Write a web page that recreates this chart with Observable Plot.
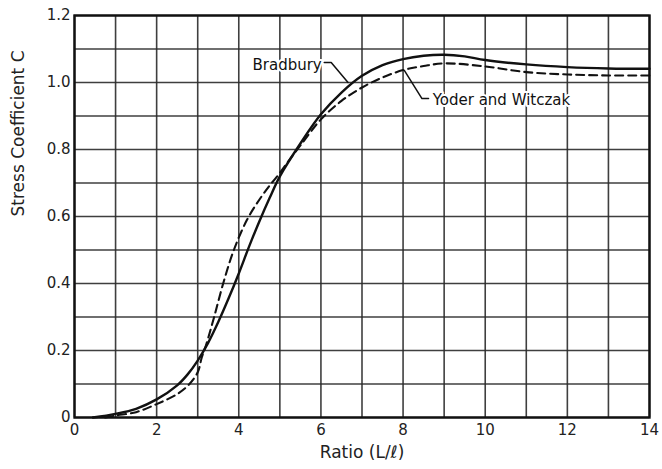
<!DOCTYPE html>
<html>
<head>
<meta charset="utf-8">
<script src="https://cdn.jsdelivr.net/npm/d3@7"></script>
<script src="https://cdn.jsdelivr.net/npm/@observablehq/plot@0.6"></script>
<style>
  html, body { margin: 0; padding: 0; background: #fff; }
  #chart { width: 662px; height: 469px; }
</style>
</head>
<body>
<div id="chart"></div>
<script>
// Bradbury curve (solid)
const bradburyX = [0.45, 1, 1.5, 2, 2.5, 2.75, 3, 3.25, 3.5, 3.75, 4, 4.25, 4.5, 4.75, 5, 5.5, 6, 6.5, 7, 7.5, 8, 8.5, 9, 9.5, 10, 11, 12, 13, 14];
const bradburyC = [0, 0.011, 0.026, 0.054, 0.096, 0.128, 0.17, 0.222, 0.285, 0.355, 0.43, 0.51, 0.585, 0.655, 0.72, 0.818, 0.905, 0.97, 1.02, 1.052, 1.07, 1.08, 1.083, 1.078, 1.067, 1.054, 1.046, 1.042, 1.041];

// Yoder and Witczak curve (dashed)
const yoderX = [0.75, 1, 1.5, 2, 2.5, 2.8, 3, 3.1, 3.2, 3.4, 3.62, 3.88, 4.2, 4.5, 4.75, 5, 5.25, 5.5, 6, 6.5, 7, 7.5, 8, 8.5, 9, 10, 11, 12, 13, 14];
const yoderC = [0, 0.006, 0.016, 0.04, 0.07, 0.10, 0.135, 0.18, 0.215, 0.30, 0.40, 0.50, 0.59, 0.65, 0.692, 0.73, 0.772, 0.812, 0.89, 0.945, 0.985, 1.015, 1.037, 1.049, 1.057, 1.048, 1.031, 1.024, 1.021, 1.021];

// Axes
const xTickLabels = [0, 2, 4, 6, 8, 10, 12, 14];
const yTickLabels = [0, 0.2, 0.4, 0.6, 0.8, 1.0, 1.2];
const xGrid = [0, 1, 2, 3, 4, 5, 6, 7, 8, 9, 10, 11, 12, 13, 14];
const yGrid = [0, 0.1, 0.2, 0.3, 0.4, 0.5, 0.6, 0.7, 0.8, 0.9, 1.0, 1.1, 1.2];
const xTitle = "Ratio (L/ℓ)";
const yTitle = "Stress Coefficient C";

// Annotations (data coordinates)
const labelNames = ["Bradbury", "Yoder and Witczak"];
const labelX = [6.02, 8.72];
const labelY = [1.052, 0.948];
const leaderBradburyX = [6.08, 6.25, 6.66];
const leaderBradburyY = [1.06, 1.06, 1.0];
const leaderYoderX = [8.62, 8.46, 8.03];
const leaderYoderY = [0.952, 0.952, 1.036];

const brad = bradburyX.map((x, i) => ({x, c: bradburyC[i]}));
const yoder = yoderX.map((x, i) => ({x, c: yoderC[i]}));
const leadB = leaderBradburyX.map((x, i) => ({x, c: leaderBradburyY[i]}));
const leadY = leaderYoderX.map((x, i) => ({x, c: leaderYoderY[i]}));

const font = "'DejaVu Sans', Verdana, sans-serif";

const chart = Plot.plot({
  width: 662,
  height: 469,
  marginLeft: 74,
  marginRight: 13,
  marginTop: 15,
  marginBottom: 52,
  style: {fontFamily: font, fontSize: "15px", color: "#222", background: "#fff"},
  x: {domain: [0, 14], label: null},
  y: {domain: [0, 1.2], label: null},
  marks: [
    Plot.gridX(xGrid, {stroke: "#2a2a2a", strokeOpacity: 0.9, strokeWidth: 1.6}),
    Plot.gridY(yGrid, {stroke: "#2a2a2a", strokeOpacity: 0.9, strokeWidth: 1.6}),
    Plot.frame({stroke: "#111", strokeWidth: 2.4}),
    Plot.axisX(xTickLabels, {tickSize: 0, tickPadding: 7, fontSize: 15, label: null}),
    Plot.axisY(yTickLabels, {tickSize: 0, tickPadding: 4, fontSize: 15, tickFormat: d => d === 0 ? "0" : d.toFixed(1), label: null}),
    Plot.text([xTitle], {frameAnchor: "bottom", dy: 40, text: d => d, fontSize: 17, fill: "#222"}),
    Plot.text([yTitle], {frameAnchor: "left", dx: -56, rotate: -90, text: d => d, fontSize: 17, fill: "#222"}),
    Plot.line(brad, {x: "x", y: "c", curve: "catmull-rom", stroke: "#111", strokeWidth: 2.4}),
    Plot.line(yoder, {x: "x", y: "c", curve: "catmull-rom", stroke: "#111", strokeWidth: 2.1, strokeDasharray: "8,5"}),
    Plot.line(leadB, {x: "x", y: "c", stroke: "#111", strokeWidth: 1.5}),
    Plot.line(leadY, {x: "x", y: "c", stroke: "#111", strokeWidth: 1.5}),
    Plot.text([labelNames[0]], {x: labelX[0], y: labelY[0], text: d => d, textAnchor: "end", fontSize: 15, fill: "#111", stroke: "#fff", strokeWidth: 4, paintOrder: "stroke"}),
    Plot.text([labelNames[1]], {x: labelX[1], y: labelY[1], text: d => d, textAnchor: "start", fontSize: 15, fill: "#111", stroke: "#fff", strokeWidth: 4, paintOrder: "stroke"})
  ]
});
document.getElementById("chart").appendChild(chart);
</script>
</body>
</html>
